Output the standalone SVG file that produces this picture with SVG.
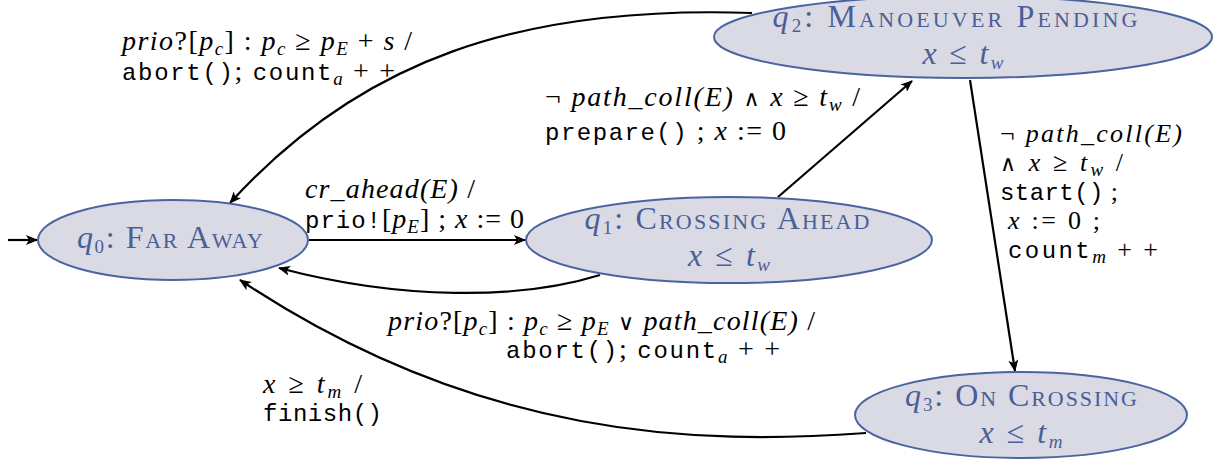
<svg xmlns="http://www.w3.org/2000/svg" width="1213" height="459" viewBox="0 0 1213 459">
<defs>
<marker id="ah" viewBox="0 0 12 10" refX="11" refY="5" markerWidth="12" markerHeight="10" markerUnits="userSpaceOnUse" orient="auto">
<path d="M0,0 L12,5 L0,10 L3,5 z" fill="#000"/>
</marker>
<style>
.node ellipse{fill:#d9dae4;stroke:#4a64a0;stroke-width:2}
.nt{font-family:"Liberation Serif",serif;font-size:32px;fill:#4b5e98;text-anchor:middle}
.sc{font-variant:small-caps}
.e{fill:none;stroke:#000;stroke-width:2.2;marker-end:url(#ah)}
.m{font-family:"Liberation Serif",serif;font-size:28px;fill:#000}
.i{font-style:italic}
.tt{font-family:"Liberation Mono",monospace;font-size:24px}
.s{font-size:19px}
.op{font-family:"DejaVu Serif",serif;font-size:22px}
.d{font-size:26px}
</style>
</defs>
<g id="connectors">
<line class="e" x1="8" y1="240" x2="37" y2="240"/>
<line class="e" x1="309" y1="240" x2="525" y2="240"/>
<path class="e" d="M600,275 C520,300 400,300 279,268"/>
<line class="e" x1="778" y1="197" x2="912" y2="81"/>
<path class="e" d="M752,13 C520,5 360,60 230,203"/>
<line class="e" x1="970" y1="80" x2="1015" y2="371"/>
<path class="e" d="M866,433 C700,445 480,440 240,280"/>
</g>
<g id="q0" class="node">
<ellipse cx="173" cy="240" rx="135" ry="40"/>
<text class="nt" x="170" y="248" textLength="186"><tspan class="i">q</tspan><tspan class="s" dy="5">0</tspan><tspan dy="-5">: </tspan><tspan class="sc">Far Away</tspan></text>
</g>
<g id="q1" class="node">
<ellipse cx="729" cy="240" rx="203" ry="43"/>
<text class="nt" x="727" y="229" textLength="285"><tspan class="i">q</tspan><tspan class="s" dy="5">1</tspan><tspan dy="-5">: </tspan><tspan class="sc">Crossing Ahead</tspan></text>
<text class="nt" x="729" y="266" textLength="82"><tspan class="i">x</tspan> ≤ <tspan class="i">t</tspan><tspan class="s i" dy="5">w</tspan></text>
</g>
<g id="q2" class="node">
<ellipse cx="963" cy="37" rx="249" ry="41"/>
<text class="nt" x="955" y="27" textLength="365"><tspan class="i">q</tspan><tspan class="s" dy="5">2</tspan><tspan dy="-5">: </tspan><tspan class="sc">Manoeuver Pending</tspan></text>
<text class="nt" x="963" y="64" textLength="81"><tspan class="i">x</tspan> ≤ <tspan class="i">t</tspan><tspan class="s i" dy="5">w</tspan></text>
</g>
<g id="q3" class="node">
<ellipse cx="1021" cy="415" rx="166" ry="43"/>
<text class="nt" x="1021" y="406" textLength="232"><tspan class="i">q</tspan><tspan class="s" dy="5">3</tspan><tspan dy="-5">: </tspan><tspan class="sc">On Crossing</tspan></text>
<text class="nt" x="1021" y="443" textLength="83"><tspan class="i">x</tspan> ≤ <tspan class="i">t</tspan><tspan class="s i" dy="5">m</tspan></text>
</g>
<g id="labels">
<text class="m" x="122" y="50" textLength="290"><tspan class="i">prio</tspan>?[<tspan class="i">p</tspan><tspan class="s i" dy="5">c</tspan><tspan dy="-5">] : </tspan><tspan class="i">p</tspan><tspan class="s i" dy="5">c</tspan><tspan dy="-5"> ≥ </tspan><tspan class="i">p</tspan><tspan class="s i" dy="5">E</tspan><tspan dy="-5"> + </tspan><tspan class="i">s</tspan> /</text>
<text class="m" x="122" y="80" textLength="273"><tspan class="tt">abort()</tspan>;  <tspan class="tt">count</tspan><tspan class="s i" dy="5">a</tspan><tspan dy="-5"> + +</tspan></text>
<text class="m" x="305" y="198" textLength="170"><tspan class="i">cr_ahead(E)</tspan> /</text>
<text class="m" x="305" y="228" textLength="219"><tspan class="tt">prio!</tspan>[<tspan class="i">p</tspan><tspan class="s i" dy="5">E</tspan><tspan dy="-5">] ; </tspan><tspan class="i">x</tspan> := 0</text>
<text class="m" x="545" y="106" textLength="315">¬ <tspan class="i">path_coll(E)</tspan> <tspan class="op">∧</tspan> <tspan class="i">x</tspan> ≥ <tspan class="i">t</tspan><tspan class="s i" dy="5">w</tspan><tspan dy="-5"> /</tspan></text>
<text class="m" x="545" y="140" textLength="241"><tspan class="tt">prepare()</tspan> ; <tspan class="i">x</tspan> := 0</text>
<text class="m d" x="1000" y="142" textLength="182">¬ <tspan class="i">path_coll(E)</tspan></text>
<text class="m d" x="1000" y="171" textLength="123"><tspan class="op">∧</tspan> <tspan class="i">x</tspan> ≥ <tspan class="i">t</tspan><tspan class="s i" dy="5">w</tspan><tspan dy="-5"> /</tspan></text>
<text class="m d" x="1000" y="200" textLength="118"><tspan class="tt">start()</tspan> ;</text>
<text class="m d" x="1008" y="229" textLength="92"><tspan class="i">x</tspan> := 0 ;</text>
<text class="m d" x="1008" y="258" textLength="150"><tspan class="tt">count</tspan><tspan class="s i" dy="5">m</tspan><tspan dy="-5"> + +</tspan></text>
<text class="m" x="388" y="330" textLength="427"><tspan class="i">prio</tspan>?[<tspan class="i">p</tspan><tspan class="s i" dy="5">c</tspan><tspan dy="-5">] : </tspan><tspan class="i">p</tspan><tspan class="s i" dy="5">c</tspan><tspan dy="-5"> ≥ </tspan><tspan class="i">p</tspan><tspan class="s i" dy="5">E</tspan><tspan dy="-5"> </tspan><tspan class="op">∨</tspan> <tspan class="i">path_coll(E)</tspan> /</text>
<text class="m" x="506" y="358" textLength="274"><tspan class="tt">abort()</tspan>;  <tspan class="tt">count</tspan><tspan class="s i" dy="5">a</tspan><tspan dy="-5"> + +</tspan></text>
<text class="m" x="263" y="393" textLength="99"><tspan class="i">x</tspan> ≥ <tspan class="i">t</tspan><tspan class="s i" dy="5">m</tspan><tspan dy="-5"> /</tspan></text>
<text class="m" x="263" y="421" textLength="119"><tspan class="tt">finish()</tspan></text>
</g>
</svg>
